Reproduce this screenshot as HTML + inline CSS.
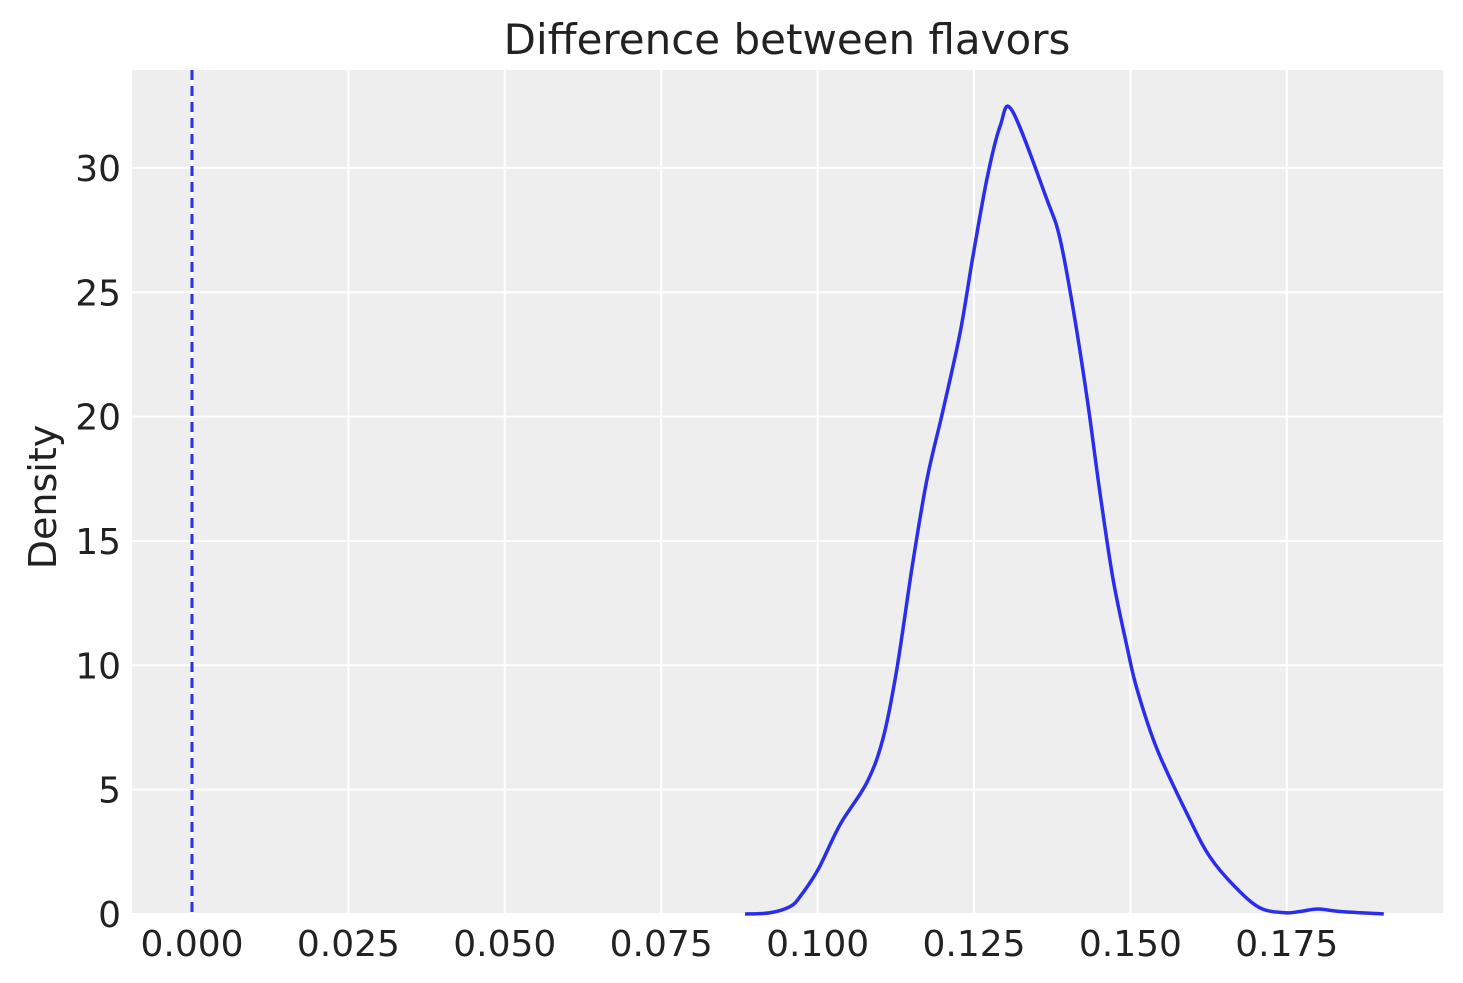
<!DOCTYPE html>
<html><head><meta charset="utf-8">
<style>
html,body{margin:0;padding:0;background:#fff;}
svg{display:block;font-family:"DejaVu Sans","Liberation Sans",sans-serif;}
</style></head>
<body>
<svg id="chart" width="1463" height="983" viewBox="0 0 1463 983" xmlns="http://www.w3.org/2000/svg">
<rect x="132" y="70" width="1311" height="844" fill="#eeeeee"/>
<g id="grid"></g>
<g id="xticks"></g>
<g id="yticks"></g>
<line id="refline" stroke="#2a2eec" stroke-width="3" stroke-dasharray="10,6"/>
<path id="kde" fill="none" stroke="#2a2eec" stroke-width="3.5" stroke-linejoin="round"/>
<text x="787" y="54" font-size="42" text-anchor="middle" fill="#222">Difference between flavors</text>
<text transform="translate(56,497) rotate(-90)" font-size="38" text-anchor="middle" fill="#222">Density</text>
</svg>
<script>
const xValues = [0.0884,0.0924,0.0956,0.0972,0.1001,0.1036,0.1079,0.1105,0.1127,0.1152,0.1175,0.12,0.1228,0.1248,0.1271,0.1292,0.1311,0.1367,0.1387,0.1408,0.1431,0.1451,0.1472,0.1495,0.1511,0.1543,0.1595,0.1627,0.1667,0.1707,0.1747,0.1771,0.18,0.1835,0.1905];
const densityValues = [0,0.05,0.3,0.7,1.8,3.6,5.3,7.1,9.9,14.1,17.5,20.2,23.4,26.4,29.6,31.7,32.3,28.7,27.2,24.4,20.7,17.0,13.5,10.7,9.0,6.6,3.8,2.3,1.1,0.25,0.05,0.1,0.2,0.1,0];
const xTicks = [0,0.025,0.05,0.075,0.1,0.125,0.15,0.175];
const xTickLabels = ["0.000","0.025","0.050","0.075","0.100","0.125","0.150","0.175"];
const yTicks = [0,5,10,15,20,25,30];
const yTickLabels = ["0","5","10","15","20","25","30"];
const refValue = 0;

const X0=192, XS=6256, Y0=914, YS=24.87;
const sx = v => X0 + v*XS;
const sy = v => Y0 - v*YS;
const NS="http://www.w3.org/2000/svg";
const grid=document.getElementById('grid'), xt=document.getElementById('xticks'), yt=document.getElementById('yticks');
function mk(tag,attrs,parent){const e=document.createElementNS(NS,tag);for(const k in attrs)e.setAttribute(k,attrs[k]);parent.appendChild(e);return e;}
xTicks.forEach((t,i)=>{
  const l=mk('line',{x1:sx(t),x2:sx(t),y1:70,y2:914,stroke:'#fff','stroke-width':2},grid);
  
  
  const tx=mk('text',{x:sx(t),y:956,'font-size':36,'text-anchor':'middle',fill:'#222'},xt);
  tx.textContent=xTickLabels[i];
  
  
});
yTicks.forEach((t,i)=>{
  const l=mk('line',{x1:132,x2:1443,y1:sy(t),y2:sy(t),stroke:'#fff','stroke-width':2},grid);
  
  
  const tx=mk('text',{x:121,y:sy(t)+13,'font-size':36,'text-anchor':'end',fill:'#222'},yt);
  tx.textContent=yTickLabels[i];
  
  
});
const rl=document.getElementById('refline');
rl.setAttribute('x1',sx(refValue));rl.setAttribute('x2',sx(refValue));
rl.setAttribute('y1',70);rl.setAttribute('y2',914);
const pts=xValues.map((v,i)=>[sx(v),sy(densityValues[i])]);
let d=`M${pts[0][0]},${pts[0][1]}`;
for(let i=0;i<pts.length-1;i++){
  const p0=pts[Math.max(0,i-1)],p1=pts[i],p2=pts[i+1],p3=pts[Math.min(pts.length-1,i+2)];
  const c1=[p1[0]+(p2[0]-p0[0])/6,p1[1]+(p2[1]-p0[1])/6];
  const c2=[p2[0]-(p3[0]-p1[0])/6,p2[1]-(p3[1]-p1[1])/6];
  d+=` C${c1[0]},${c1[1]} ${c2[0]},${c2[1]} ${p2[0]},${p2[1]}`;
}
document.getElementById('kde').setAttribute('d',d);
</script>
</body></html>
